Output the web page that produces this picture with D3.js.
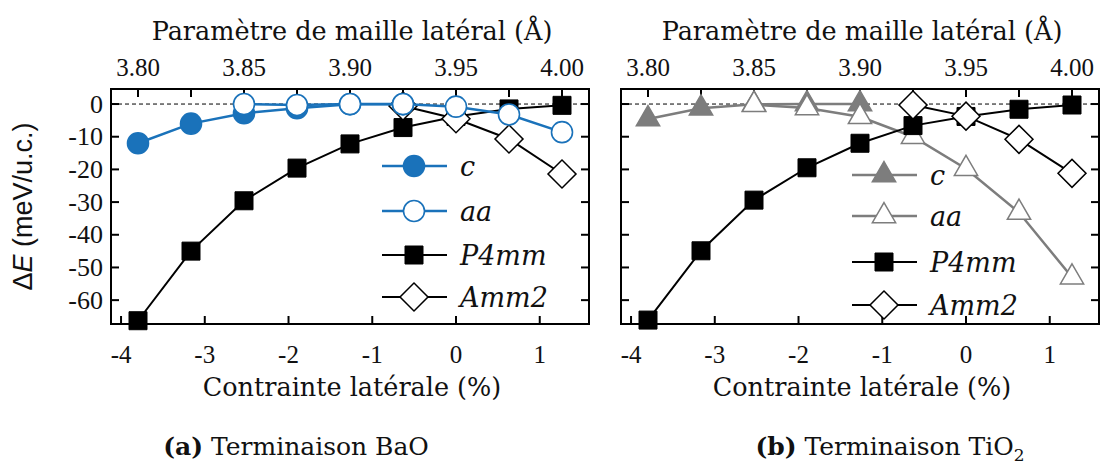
<!DOCTYPE html>
<html lang="fr">
<head>
<meta charset="UTF-8">
<title>Energie vs contrainte</title>
<script src="https://cdn.jsdelivr.net/npm/d3@7"></script>
<style>
    html, body { margin: 0; background: #fff; }
    text { font-family: "DejaVu Serif", serif; fill: #111; }
    .num { font-family: "Liberation Serif", serif; }
    .ylab { font-family: "Liberation Sans", Arial, sans-serif; }
</style>
</head>
<body>
<div id="chart"></div>
<script>
// lattice parameters (Å) of the computed points; strain is relative to 3.95 Å
var latParams = [3.800, 3.825, 3.850, 3.875, 3.900, 3.925, 3.950, 3.975, 4.000];
var a0 = 3.95;
var topTicks = [3.800, 3.825, 3.850, 3.875, 3.900, 3.925, 3.950, 3.975, 4.000];
var topLabels = [3.80, 3.85, 3.90, 3.95, 4.00];
var bottomTicks = [-4, -3, -2, -1, 0, 1];
var yTicks = [0, -10, -20, -30, -40, -50, -60];

// (a) BaO termination, meV/u.c.
var baoC     = [-12.0, -6.0, -2.8, -1.3, -0.1, -0.1, null, null, null];
var baoAa    = [null, null, 0.0, -0.3, 0.0, 0.0, -0.8, -3.2, -8.6];
var baoP4mm  = [-66.3, -45.0, -29.6, -19.6, -12.2, -7.2, -3.8, -1.5, -0.4];
var baoAmm2  = [null, null, null, null, null, -0.6, -4.5, -10.7, -21.4];

// (b) TiO2 termination, meV/u.c.
var tioC     = [-4.6, -1.3, -0.1, 0.0, 0.0, null, null, null, null];
var tioAa    = [null, null, -0.2, -1.2, -3.9, -10.0, -19.8, -33.2, -53.0];
var tioP4mm  = [-66.1, -44.9, -29.4, -19.5, -12.0, -6.6, -3.8, -1.6, -0.3];
var tioAmm2  = [null, null, null, null, null, -0.3, -3.7, -10.8, -21.2];

var blue = '#1a72ba';
var grey = '#7d7d7d';

var panels = [
    { x0: 111, caption: 'a', legendX: 382, legendY: [166, 211, 255, 297],
      series: [
        { name: 'P4mm', vals: baoP4mm, color: '#000', shape: 'square', lw: 2 },
        { name: 'Amm2', vals: baoAmm2, color: '#000', shape: 'diamond', lw: 2 },
        { name: 'c',    vals: baoC,    color: blue,  shape: 'circleFill', lw: 2.5 },
        { name: 'aa',   vals: baoAa,   color: blue,  shape: 'circleOpen', lw: 2.5 }
      ] },
    { x0: 621, caption: 'b', legendX: 852, legendY: [175, 216, 262, 305],
      series: [
        { name: 'c',    vals: tioC,    color: grey,  shape: 'triFill', lw: 2.5 },
        { name: 'aa',   vals: tioAa,   color: grey,  shape: 'triOpen', lw: 2.5 },
        { name: 'P4mm', vals: tioP4mm, color: '#000', shape: 'square', lw: 2 },
        { name: 'Amm2', vals: tioAmm2, color: '#000', shape: 'diamond', lw: 2 }
      ] }
];
var legendOrder = ['c', 'aa', 'P4mm', 'Amm2'];

var width = 1100, height = 465;
var pw = 478, plotTop = 89, plotBot = 324;
var pad = 27;

var svg = d3.select('#chart').append('svg')
    .attr('width', width)
    .attr('height', height);

var y = d3.scaleLinear().domain([4.6, -67.3]).range([plotTop, plotBot]);

function drawMarker(g, shape, color, cx, cy) {
    if (shape === 'circleFill' || shape === 'circleOpen') {
        g.append('circle')
            .attr('cx', cx).attr('cy', cy).attr('r', 10.5)
            .attr('fill', shape === 'circleFill' ? color : '#fff')
            .attr('stroke', color).attr('stroke-width', 1.6);
    } else {
        var sym;
        if (shape === 'square') sym = d3.symbol(d3.symbolSquare, 324);
        else if (shape === 'diamond') sym = d3.symbol(d3.symbolSquare, 392);
        else sym = d3.symbol(d3.symbolTriangle, 235);
        var rot = shape === 'diamond' ? ' rotate(45)' : '';
        var fill = (shape === 'square' || shape === 'triFill') ? color : '#fff';
        g.append('path')
            .attr('d', sym())
            .attr('transform', 'translate(' + cx + ',' + cy + ')' + rot)
            .attr('fill', fill)
            .attr('stroke', color)
            .attr('stroke-width', shape === 'square' ? 1 : 1.5);
    }
}

panels.forEach(function(p) {
    var xTop = d3.scaleLinear()
        .domain([latParams[0], latParams[latParams.length - 1]])
        .range([p.x0 + pad, p.x0 + pw - pad]);
    var sLo = (xTop.invert(p.x0) / a0 - 1) * 100;
    var sHi = (xTop.invert(p.x0 + pw) / a0 - 1) * 100;
    var xBot = d3.scaleLinear().domain([sLo, sHi]).range([p.x0, p.x0 + pw]);

    var g = svg.append('g');

    // zero reference
    g.append('line')
        .attr('x1', p.x0).attr('x2', p.x0 + pw)
        .attr('y1', y(0)).attr('y2', y(0))
        .attr('stroke', '#000').attr('stroke-width', 1)
        .attr('stroke-dasharray', '4,3');

    // inward ticks
    var tl = 8;
    topTicks.forEach(function(t) {
        g.append('line').attr('x1', xTop(t)).attr('x2', xTop(t))
            .attr('y1', plotTop).attr('y2', plotTop + tl)
            .attr('stroke', '#000').attr('stroke-width', 2);
    });
    bottomTicks.forEach(function(t) {
        g.append('line').attr('x1', xBot(t)).attr('x2', xBot(t))
            .attr('y1', plotBot).attr('y2', plotBot - tl)
            .attr('stroke', '#000').attr('stroke-width', 2);
    });
    yTicks.forEach(function(t) {
        g.append('line').attr('x1', p.x0).attr('x2', p.x0 + tl)
            .attr('y1', y(t)).attr('y2', y(t))
            .attr('stroke', '#000').attr('stroke-width', 2);
        g.append('line').attr('x1', p.x0 + pw).attr('x2', p.x0 + pw - tl)
            .attr('y1', y(t)).attr('y2', y(t))
            .attr('stroke', '#000').attr('stroke-width', 2);
    });

    // series
    p.series.forEach(function(s) {
        var pts = [];
        s.vals.forEach(function(v, i) {
            if (v !== null) pts.push([xTop(latParams[i]), y(v)]);
        });
        g.append('path')
            .attr('d', d3.line()(pts))
            .attr('fill', 'none')
            .attr('stroke', s.color)
            .attr('stroke-width', s.lw);
        pts.forEach(function(pt) { drawMarker(g, s.shape, s.color, pt[0], pt[1]); });
    });

    // frame
    g.append('rect')
        .attr('x', p.x0).attr('y', plotTop)
        .attr('width', pw).attr('height', plotBot - plotTop)
        .attr('fill', 'none').attr('stroke', '#000').attr('stroke-width', 2);

    // legend
    legendOrder.forEach(function(name, i) {
        var s = p.series.filter(function(d) { return d.name === name; })[0];
        var ly = p.legendY[i];
        g.append('line')
            .attr('x1', p.legendX).attr('x2', p.legendX + 65)
            .attr('y1', ly).attr('y2', ly)
            .attr('stroke', s.color).attr('stroke-width', s.lw);
        drawMarker(g, s.shape, s.color, p.legendX + 32, ly);
        g.append('text')
            .attr('x', p.legendX + 78).attr('y', ly + 10)
            .attr('font-size', 27).attr('font-style', 'italic')
            .text(name);
    });

    // tick labels
    topLabels.forEach(function(t) {
        g.append('text').attr('class', 'num')
            .attr('x', xTop(t)).attr('y', 76)
            .attr('text-anchor', 'middle').attr('font-size', 25)
            .text(t.toFixed(2));
    });
    bottomTicks.forEach(function(t) {
        g.append('text').attr('class', 'num')
            .attr('x', xBot(t)).attr('y', 363)
            .attr('text-anchor', 'middle').attr('font-size', 25)
            .text(t);
    });

    var cx = p.x0 + pw / 2;
    g.append('text').attr('x', cx + 2).attr('y', 40)
        .attr('text-anchor', 'middle').attr('font-size', 25.5)
        .text('Paramètre de maille latéral (Å)');
    g.append('text').attr('x', cx + 2).attr('y', 396)
        .attr('text-anchor', 'middle').attr('font-size', 25.5)
        .text('Contrainte latérale (%)');

    var cap = g.append('text').attr('x', p.caption === 'a' ? cx - 54 : cx + 30).attr('y', 455)
        .attr('text-anchor', 'middle').attr('font-size', 25);
    cap.append('tspan').attr('font-weight', 'bold').text('(' + p.caption + ')');
    if (p.caption === 'b') {
        cap.append('tspan').text(' Terminaison TiO');
        cap.append('tspan').attr('font-size', 17).attr('dy', 6).text('2');
    } else {
        cap.append('tspan').text(' Terminaison BaO');
    }
});

// shared y labels
yTicks.forEach(function(t) {
    svg.append('text').attr('class', 'num')
        .attr('x', 103).attr('y', y(t) + 8.5)
        .attr('text-anchor', 'end').attr('font-size', 26)
        .text(t);
});
svg.append('text')
    .attr('class', 'ylab')
    .attr('transform', 'translate(32,' + ((plotTop + plotBot) / 2) + ') rotate(-90)')
    .attr('text-anchor', 'middle').attr('font-size', 27)
    .call(function(t) {
        t.append('tspan').text('Δ');
        t.append('tspan').attr('font-style', 'italic').text('E');
        t.append('tspan').text(' (meV/u.c.)');
    });
</script>
</body>
</html>
